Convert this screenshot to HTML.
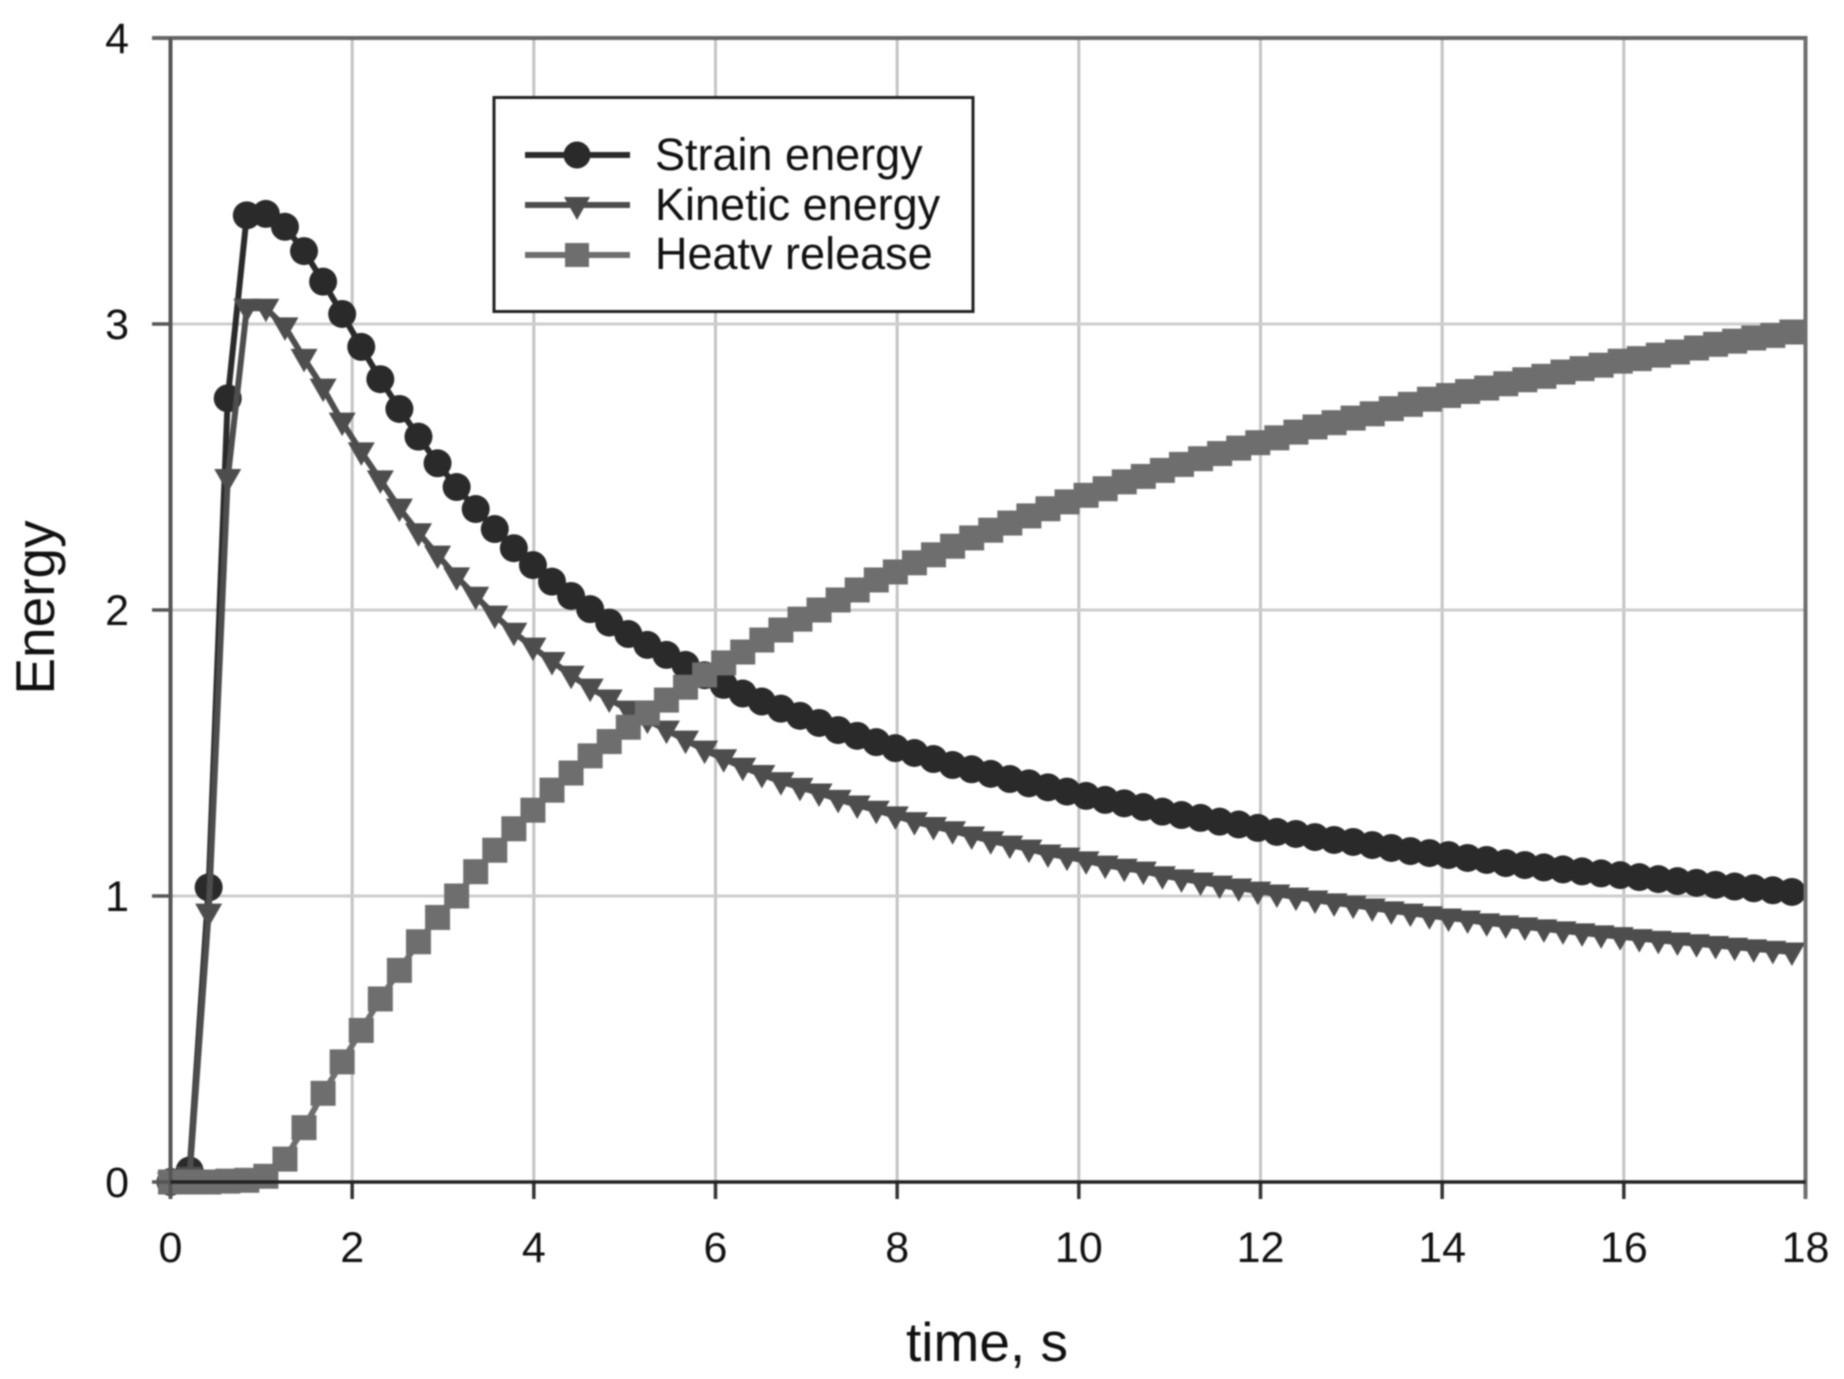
<!DOCTYPE html>
<html lang="en">
<head>
<meta charset="utf-8">
<title>Energy vs time</title>
<style>
html,body{margin:0;padding:0;background:#fff;width:1844px;height:1379px;overflow:hidden}
svg{display:block;filter:blur(0.8px)}
text{font-family:"Liberation Sans",sans-serif;fill:#111}
</style>
</head>
<body>
<svg id="chart" width="1844" height="1379" viewBox="0 0 1844 1379" xmlns="http://www.w3.org/2000/svg">
<rect x="0" y="0" width="1844" height="1379" fill="#fff"/>
<g id="grid"></g>
<g id="series"></g>
<g id="axes"></g>
<text x="987" y="1361" font-size="55" text-anchor="middle">time, s</text>
<text transform="translate(54,607.5) rotate(-90)" font-size="55" text-anchor="middle">Energy</text>
<g id="legend">
<rect x="494" y="97.5" width="479" height="214" fill="#fff" stroke="#222" stroke-width="3"/>
<g>
<line x1="525" x2="630" y1="155" y2="155" stroke="#2a2a2a" stroke-width="6"/>
<circle cx="577" cy="155" r="13.5" fill="#2a2a2a"/>
<text x="655" y="170" font-size="45">Strain energy</text>
</g>
<g>
<line x1="525" x2="630" y1="205" y2="205" stroke="#4d4d4d" stroke-width="6"/>
<polygon points="564,197 590,197 577,220" fill="#4d4d4d"/>
<text x="655" y="220" font-size="45">Kinetic energy</text>
</g>
<g>
<line x1="525" x2="630" y1="255" y2="255" stroke="#6e6e6e" stroke-width="6"/>
<rect x="565" y="243" width="24" height="24" fill="#6e6e6e"/>
<text x="655" y="269" font-size="45">Heatv release</text>
</g>
</g>
</svg>
<script>
const times = [0,0.21,0.42,0.63,0.84,1.05,1.26,1.47,1.68,1.89,2.1,2.31,2.52,2.73,2.94,3.15,3.36,3.57,3.78,3.99,4.2,4.41,4.62,4.83,5.04,5.25,5.46,5.67,5.88,6.09,6.3,6.51,6.72,6.93,7.14,7.35,7.56,7.77,7.98,8.19,8.4,8.61,8.82,9.03,9.24,9.45,9.66,9.87,10.08,10.29,10.5,10.71,10.92,11.13,11.34,11.55,11.76,11.97,12.18,12.39,12.6,12.81,13.02,13.23,13.44,13.65,13.86,14.07,14.28,14.49,14.7,14.91,15.12,15.33,15.54,15.75,15.96,16.17,16.38,16.59,16.8,17.01,17.22,17.43,17.64,17.85];
const strainEnergy = [0,0.04,1.03,2.74,3.38,3.385,3.34,3.255,3.148,3.035,2.92,2.807,2.703,2.606,2.513,2.43,2.353,2.283,2.216,2.157,2.099,2.049,2.003,1.956,1.916,1.878,1.843,1.808,1.772,1.738,1.708,1.68,1.655,1.63,1.605,1.58,1.56,1.538,1.517,1.5,1.479,1.458,1.443,1.427,1.409,1.394,1.38,1.365,1.35,1.336,1.324,1.311,1.295,1.283,1.273,1.26,1.25,1.238,1.224,1.217,1.206,1.196,1.189,1.178,1.168,1.157,1.15,1.143,1.133,1.126,1.115,1.108,1.1,1.093,1.086,1.079,1.073,1.066,1.059,1.052,1.046,1.039,1.033,1.027,1.02,1.014];
const kineticEnergy = [0,0.02,0.94,2.46,3.055,3.055,2.99,2.88,2.776,2.657,2.553,2.455,2.356,2.27,2.192,2.116,2.048,1.982,1.922,1.87,1.82,1.772,1.727,1.689,1.65,1.615,1.58,1.545,1.51,1.48,1.45,1.425,1.4,1.38,1.36,1.338,1.318,1.3,1.28,1.26,1.243,1.228,1.21,1.193,1.178,1.164,1.147,1.136,1.123,1.108,1.097,1.087,1.071,1.06,1.049,1.038,1.028,1.017,1.007,0.996,0.986,0.976,0.968,0.958,0.948,0.94,0.931,0.923,0.916,0.906,0.899,0.892,0.885,0.878,0.871,0.864,0.858,0.851,0.845,0.839,0.833,0.827,0.821,0.815,0.81,0.804];
const heatRelease = [0,0,0,0.003,0.006,0.02,0.08,0.19,0.31,0.42,0.53,0.64,0.74,0.84,0.925,1,1.085,1.16,1.235,1.3,1.37,1.43,1.49,1.54,1.59,1.64,1.685,1.73,1.773,1.815,1.853,1.895,1.93,1.968,2,2.035,2.07,2.105,2.133,2.165,2.193,2.223,2.252,2.279,2.304,2.329,2.354,2.378,2.401,2.424,2.448,2.467,2.488,2.509,2.529,2.547,2.566,2.585,2.602,2.622,2.64,2.655,2.671,2.686,2.704,2.719,2.737,2.75,2.764,2.776,2.791,2.805,2.817,2.832,2.844,2.856,2.87,2.879,2.891,2.902,2.916,2.929,2.94,2.951,2.96,2.972];
const xTicks = [0,2,4,6,8,10,12,14,16,18];
const yTicks = [0,1,2,3,4];

const NS = 'http://www.w3.org/2000/svg';
const xScale = v => 170.5 + v * (1805.5 - 170.5) / 18;
const yScale = v => 1182 - v * (1182 - 38) / 4;
function make(tag, parent, attrs) {
  const el = document.createElementNS(NS, tag);
  for (const k in attrs) el.setAttribute(k, attrs[k]);
  parent.appendChild(el);
  return el;
}
const gridG = document.getElementById('grid');
const axesG = document.getElementById('axes');
const seriesG = document.getElementById('series');

xTicks.forEach(t => {
  const x = xScale(t);
  if (t > 0 && t < 18) {
    const g = make('line', gridG, {x1:x, x2:x, y1:yScale(4), y2:yScale(0), stroke:'#c4c4c4', 'stroke-width':3});
    
    
  }
  const tick = make('line', axesG, {x1:x, x2:x, y1:yScale(0), y2:1199, stroke:'#333', 'stroke-width':3.5});
  
  
  const lab = make('text', axesG, {x:x, y:1262, 'font-size':43, 'text-anchor':'middle'});
  lab.textContent = t;
  
  
});
yTicks.forEach(v => {
  const y = yScale(v);
  if (v > 0 && v < 4) {
    const g = make('line', gridG, {x1:xScale(0), x2:xScale(18), y1:y, y2:y, stroke:'#cdcdcd', 'stroke-width':3});
    
    
  }
  const tick = make('line', axesG, {x1:152, x2:xScale(0), y1:y, y2:y, stroke:'#555', 'stroke-width':3.5});
  
  
  const lab = make('text', axesG, {x:129, y:y + 15, 'font-size':43, 'text-anchor':'end'});
  lab.textContent = v;
  
  
});
const topAxis = make('line', axesG, {x1:152, x2:xScale(18) + 2, y1:yScale(4), y2:yScale(4), stroke:'#666', 'stroke-width':4});


const leftAxis = make('line', axesG, {x1:xScale(0), x2:xScale(0), y1:yScale(4), y2:1199, stroke:'#555', 'stroke-width':4});


const rightAxis = make('line', axesG, {x1:xScale(18), x2:xScale(18), y1:yScale(4), y2:1199, stroke:'#6e6e6e', 'stroke-width':4});


const bottomAxis = make('line', axesG, {x1:xScale(0), x2:xScale(18), y1:yScale(0), y2:yScale(0), stroke:'#222', 'stroke-width':3.5});



function drawSeries(name, values, color, marker) {
  const g = make('g', seriesG, {});
  
  
  const pts = values.map((v, i) => xScale(times[i]).toFixed(2) + ',' + yScale(v).toFixed(2)).join(' ');
  const line = make('polyline', g, {points:pts, fill:'none', stroke:color, 'stroke-width':6, 'stroke-linejoin':'round'});
  
  
  values.forEach((v, i) => {
    const x = xScale(times[i]), y = yScale(v);
    let m;
    if (marker === 'circle') {
      m = make('circle', g, {cx:x, cy:y, r:14, fill:color});
    } else if (marker === 'triangle') {
      m = make('polygon', g, {points:(x-13.5)+','+(y-9.5)+' '+(x+13.5)+','+(y-9.5)+' '+x+','+(y+14), fill:color});
    } else {
      m = make('rect', g, {x:x-12.5, y:y-12.5, width:25, height:25, fill:color});
    }
    
    
  });
}
drawSeries('strain-energy', strainEnergy, '#2a2a2a', 'circle');
drawSeries('kinetic-energy', kineticEnergy, '#4d4d4d', 'triangle');
drawSeries('heat-release', heatRelease, '#6e6e6e', 'square');
</script>
</body>
</html>
